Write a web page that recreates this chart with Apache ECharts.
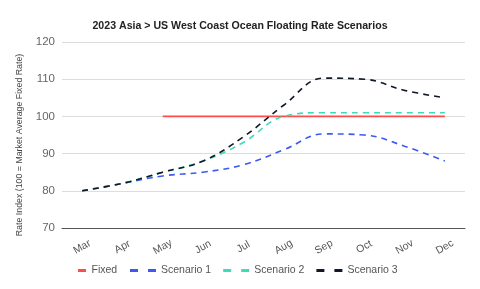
<!DOCTYPE html>
<html>
<head>
<meta charset="utf-8">
<script src="https://cdn.jsdelivr.net/npm/echarts@6/dist/echarts.min.js"></script>
<style>
  html, body { margin: 0; padding: 0; background: #fff; }
  #char1 { width: 480px; height: 289px; }
</style>
</head>
<body>
<div id="char1"></div>
<script>
var months = ['Mar', 'Apr', 'May', 'Jun', 'Jul', 'Aug', 'Sep', 'Oct', 'Nov', 'Dec'];
var fixed = ['-', '-', 100, 100, 100, 100, 100, 100, 100, 100];
var scenario1 = [80, 82, 84, 85, 87, 91, 95.3, 95, 92, 88];
var scenario2 = [80, 82, 85, 88, 93, 100, 101, 101, 101, 101];
var scenario3 = [80, 82, 85, 88, 94.5, 103, 110.3, 110, 107, 105];

function char1() {
    var myChart = echarts.init(document.getElementById('char1'));
    var font = '"Liberation Sans", Arial, sans-serif';
    var dashIcon = 'path://M0,0h8v3h-8zM18,0h8v3h-8z';
    var soloIcon = 'path://M0,0h8v3h-8z';
    function line(name, data, color, dashed) {
        return {
            name: name,
            type: 'line',
            data: data,
            smooth: 0.4,
            symbol: 'none',
            lineStyle: { color: color, width: 1.6, type: dashed ? [6, 5] : 'solid' },
            itemStyle: { color: color }
        };
    }
    var legendText = { fontFamily: font, fontSize: 10.5, color: '#555' };
    var option = {
        animation: false,
        title: {
            text: '2023 Asia > US West Coast Ocean Floating Rate Scenarios',
            left: 'center',
            top: 16,
            textStyle: { fontFamily: font, fontSize: 10.6, fontWeight: 'bold', color: '#222' }
        },
        legend: [
            {
                left: 78,
                top: 265,
                padding: 0,
                itemWidth: 9,
                itemHeight: 3,
                itemGap: 13,
                textStyle: legendText,
                data: [{ name: 'Fixed', icon: soloIcon }]
            },
            {
                left: 130,
                top: 265,
                padding: 0,
                itemWidth: 26,
                itemHeight: 3,
                itemGap: 12,
                textStyle: legendText,
                data: [
                    { name: 'Scenario 1', icon: dashIcon },
                    { name: 'Scenario 2', icon: dashIcon },
                    { name: 'Scenario 3', icon: dashIcon }
                ]
            }
        ],
        grid: { left: 62, right: 15, top: 42, bottom: 61 },
        xAxis: {
            type: 'category',
            data: months,
            boundaryGap: true,
            axisLine: { lineStyle: { color: '#555', width: 1 } },
            axisTick: { alignWithLabel: true, lineStyle: { color: '#777' } },
            axisLabel: {
                rotate: 30, align: 'center', verticalAlign: 'middle',
                fontFamily: font, fontSize: 10.5, color: '#555', margin: 19
            }
        },
        yAxis: {
            type: 'value',
            min: 70,
            max: 120,
            interval: 10,
            name: 'Rate Index (100 = Market Average Fixed Rate)',
            nameLocation: 'middle',
            nameGap: 38,
            nameTextStyle: { fontFamily: font, fontSize: 8.8, color: '#444', padding: [0, 20, 0, 0] },
            axisLine: { show: false },
            axisTick: { show: false },
            axisLabel: { fontFamily: font, fontSize: 11.5, color: '#666', margin: 7 },
            splitLine: { lineStyle: { color: '#ddd', width: 1 } }
        },
        series: [
            line('Fixed', fixed, '#ff4d4d', false),
            line('Scenario 1', scenario1, '#3b5bf0', true),
            line('Scenario 2', scenario2, '#3ddbb8', true),
            line('Scenario 3', scenario3, '#111827', true)
        ]
    };
    myChart.setOption(option);
    window.addEventListener('resize', function () { myChart.resize(); })
}
char1();
</script>
</body>
</html>
